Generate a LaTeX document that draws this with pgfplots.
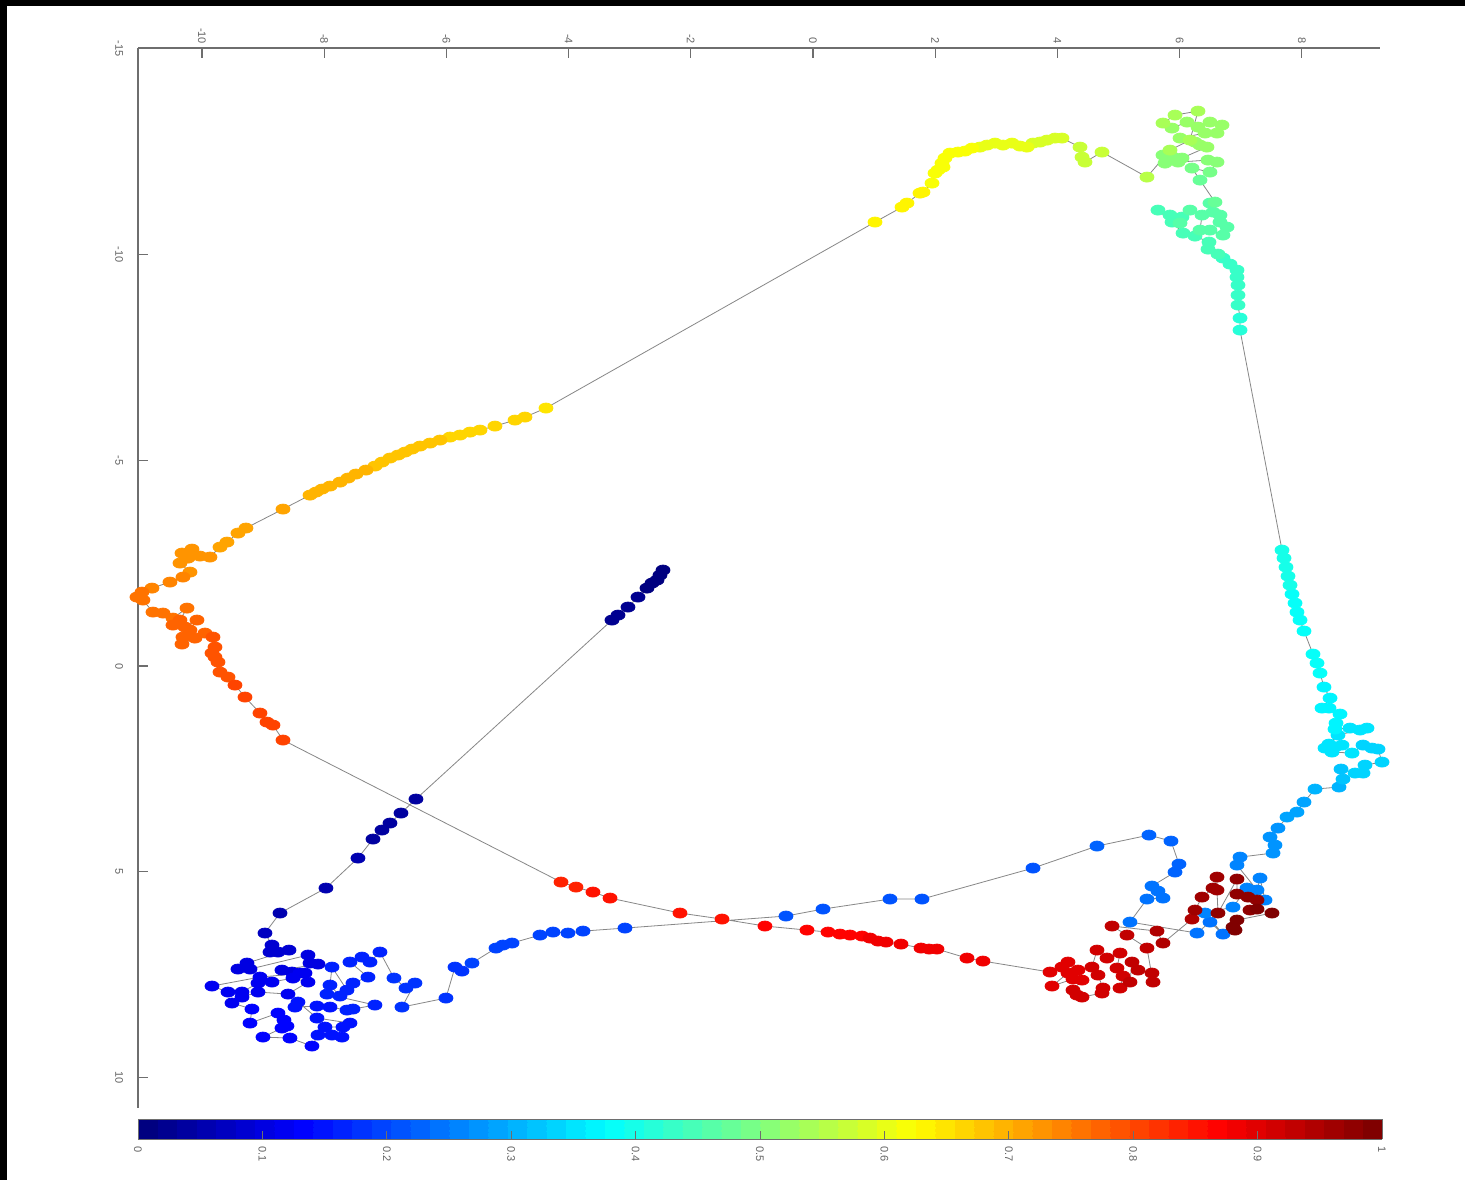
\documentclass[border=0pt]{standalone}
\usepackage{fontspec}
\setmainfont{Liberation Sans}
\usepackage{pgfplots}
\pgfplotsset{compat=1.18}
\definecolor{tickgray}{RGB}{100,100,100}
\definecolor{linegray}{RGB}{135,135,135}
\definecolor{axgray}{RGB}{110,110,110}
\pgfplotsset{colormap/jet}
\pgfplotsset{colormap={jetsixtyfour}{samples of colormap=(64 of jet)}}
\pgfplotstableread{
x y c
-2.455 -2.333 0.000
-2.504 -2.211 0.005
-2.553 -2.090 0.010
-2.635 -2.017 0.010
-2.717 -1.895 0.015
-2.864 -1.677 0.020
-3.028 -1.434 0.020
-3.191 -1.239 0.025
-3.290 -1.118 0.030
-6.498 3.232 0.035
-6.743 3.572 0.040
-6.923 3.815 0.040
-7.054 3.985 0.045
-7.201 4.204 0.045
-7.447 4.666 0.050
-7.971 5.395 0.055
-8.723 6.002 0.060
-8.969 6.488 0.070
-8.854 6.780 0.080
-8.887 6.950 0.085
-8.756 6.950 0.090
-8.576 6.902 0.090
-9.263 7.217 0.095
-9.411 7.363 0.100
-9.214 7.363 0.100
-8.265 7.023 0.100
-8.232 7.217 0.100
-8.101 7.242 0.105
-8.691 7.388 0.105
-8.527 7.436 0.105
-8.396 7.460 0.110
-8.314 7.460 0.110
-9.051 7.558 0.110
-9.836 7.776 0.110
-9.574 7.922 0.110
-9.345 7.922 0.115
-9.083 7.703 0.115
-8.854 7.679 0.115
-8.511 7.582 0.115
-8.265 7.679 0.120
-8.592 7.971 0.120
-9.083 7.922 0.120
-9.345 8.044 0.120
-9.509 8.189 0.120
-9.182 8.335 0.125
-9.214 8.676 0.125
-8.756 8.433 0.125
-8.658 8.603 0.130
-8.609 8.748 0.130
-8.691 8.797 0.130
-9.002 9.016 0.130
-8.560 9.040 0.140
-8.200 9.234 0.140
-8.101 8.967 0.145
-7.872 8.967 0.145
-7.709 9.016 0.150
-7.987 8.773 0.150
-7.692 8.773 0.150
-7.578 8.676 0.150
-8.118 8.554 0.150
-8.429 8.165 0.155
-8.478 8.287 0.155
-8.118 8.262 0.155
-7.905 8.287 0.155
-7.627 8.360 0.160
-7.529 8.335 0.160
-7.169 8.238 0.160
-7.954 7.971 0.160
-7.741 8.019 0.160
-7.905 7.752 0.160
-7.872 7.315 0.165
-7.627 7.874 0.165
-7.529 7.703 0.165
-7.283 7.558 0.165
-7.578 7.193 0.170
-7.381 7.072 0.170
-7.250 7.193 0.170
-7.087 6.950 0.170
-6.858 7.582 0.180
-6.661 7.825 0.180
-6.514 7.703 0.180
-6.727 8.287 0.180
-6.007 8.068 0.185
-5.859 7.315 0.185
-5.745 7.412 0.185
-5.581 7.217 0.190
-5.188 6.853 0.190
-5.074 6.780 0.190
-4.926 6.731 0.190
-4.468 6.537 0.195
-4.255 6.464 0.195
-4.010 6.488 0.195
-3.764 6.440 0.200
-3.077 6.367 0.200
-0.442 6.075 0.205
0.164 5.905 0.205
1.260 5.662 0.210
1.784 5.662 0.210
3.601 4.909 0.215
4.648 4.374 0.220
5.499 4.107 0.225
5.859 4.253 0.225
5.990 4.812 0.230
5.925 5.006 0.230
5.548 5.346 0.235
5.646 5.468 0.235
5.728 5.638 0.235
5.466 5.662 0.240
5.188 6.221 0.240
6.285 6.488 0.245
6.497 6.221 0.245
6.710 6.513 0.245
6.416 6.002 0.250
6.874 5.857 0.250
7.103 5.395 0.250
7.267 5.443 0.255
7.316 5.152 0.255
7.398 5.686 0.255
6.939 4.836 0.260
6.989 4.642 0.260
7.529 4.544 0.270
7.561 4.350 0.270
7.480 4.155 0.275
7.610 3.937 0.280
7.758 3.669 0.285
7.921 3.548 0.290
8.036 3.305 0.295
8.216 2.989 0.300
8.609 2.940 0.310
8.674 2.746 0.315
8.642 2.503 0.320
8.871 2.600 0.330
9.002 2.600 0.330
9.034 2.406 0.335
9.313 2.333 0.335
9.247 2.017 0.340
9.149 1.993 0.340
9.002 1.920 0.340
8.822 2.114 0.345
8.494 2.090 0.345
8.658 1.920 0.345
8.380 1.993 0.350
8.543 1.968 0.350
8.445 1.896 0.350
8.592 1.677 0.350
9.067 1.507 0.355
8.953 1.555 0.355
8.789 1.507 0.355
8.543 1.531 0.360
8.560 1.385 0.360
8.625 1.166 0.360
8.445 1.021 0.365
8.331 1.021 0.365
8.462 0.778 0.370
8.363 0.510 0.370
8.298 0.170 0.375
8.249 -0.073 0.375
8.183 -0.292 0.380
8.036 -0.851 0.380
7.971 -1.118 0.385
7.921 -1.312 0.385
7.889 -1.531 0.390
7.840 -1.750 0.390
7.807 -1.968 0.395
7.774 -2.187 0.395
7.741 -2.406 0.400
7.709 -2.624 0.400
7.676 -2.819 0.400
6.989 -8.165 0.420
6.989 -8.457 0.420
6.956 -8.773 0.425
6.956 -9.016 0.425
6.956 -9.259 0.430
6.939 -9.453 0.430
6.939 -9.623 0.430
6.825 -9.769 0.435
6.710 -9.915 0.435
6.628 -10.012 0.440
6.465 -10.133 0.440
6.481 -10.304 0.445
6.252 -10.449 0.445
6.056 -10.522 0.445
5.876 -10.790 0.450
5.646 -11.081 0.450
5.843 -10.960 0.450
6.039 -10.911 0.450
6.007 -10.765 0.455
6.170 -11.081 0.455
6.367 -10.960 0.455
6.334 -10.595 0.455
6.497 -10.595 0.460
6.710 -10.474 0.460
6.776 -10.668 0.460
6.661 -10.790 0.460
6.661 -10.960 0.465
6.547 -11.033 0.465
6.497 -11.251 0.465
6.579 -11.276 0.470
6.334 -11.810 0.480
6.203 -12.102 0.490
6.497 -12.005 0.490
6.612 -12.248 0.500
6.465 -12.296 0.500
5.974 -12.248 0.510
5.761 -12.223 0.510
5.728 -12.418 0.510
5.892 -12.369 0.515
6.039 -12.345 0.515
6.448 -12.612 0.520
6.334 -12.661 0.520
6.252 -12.734 0.520
6.007 -12.831 0.520
6.416 -12.953 0.525
6.612 -12.953 0.525
6.694 -13.147 0.525
6.497 -13.220 0.530
6.301 -13.098 0.530
6.121 -13.220 0.530
5.876 -13.074 0.530
5.728 -13.196 0.535
5.925 -13.390 0.535
6.301 -13.487 0.535
6.170 -12.782 0.540
5.843 -12.539 0.540
5.466 -11.883 0.550
4.730 -12.491 0.565
4.452 -12.248 0.570
4.403 -12.369 0.570
4.370 -12.612 0.575
4.075 -12.831 0.580
3.961 -12.831 0.585
3.830 -12.782 0.585
3.715 -12.734 0.590
3.601 -12.709 0.590
3.502 -12.612 0.595
3.388 -12.637 0.595
3.257 -12.709 0.600
3.110 -12.661 0.600
2.979 -12.709 0.600
2.848 -12.661 0.605
2.733 -12.612 0.605
2.602 -12.588 0.610
2.488 -12.515 0.610
2.373 -12.491 0.610
2.242 -12.466 0.615
2.160 -12.345 0.615
2.111 -12.223 0.615
2.128 -12.126 0.620
2.046 -12.053 0.620
1.997 -11.980 0.620
1.948 -11.737 0.620
1.800 -11.519 0.625
1.751 -11.494 0.625
1.538 -11.251 0.630
1.457 -11.154 0.630
1.015 -10.790 0.635
-4.370 -6.270 0.655
-4.714 -6.051 0.660
-4.877 -5.978 0.660
-5.205 -5.832 0.665
-5.450 -5.735 0.665
-5.614 -5.686 0.670
-5.777 -5.614 0.670
-5.941 -5.565 0.670
-6.105 -5.492 0.675
-6.268 -5.419 0.675
-6.432 -5.346 0.675
-6.563 -5.273 0.680
-6.678 -5.200 0.680
-6.792 -5.128 0.680
-6.923 -5.055 0.685
-7.054 -4.957 0.685
-7.169 -4.860 0.685
-7.316 -4.763 0.690
-7.480 -4.666 0.690
-7.610 -4.569 0.690
-7.741 -4.471 0.695
-7.905 -4.374 0.695
-8.036 -4.301 0.695
-8.134 -4.228 0.700
-8.232 -4.155 0.700
-8.674 -3.815 0.705
-9.280 -3.354 0.710
-9.411 -3.232 0.710
-9.591 -3.013 0.715
-9.705 -2.892 0.715
-9.869 -2.649 0.720
-10.033 -2.673 0.720
-10.164 -2.843 0.720
-10.327 -2.746 0.725
-10.229 -2.624 0.725
-10.360 -2.503 0.730
-10.196 -2.284 0.730
-10.311 -2.163 0.735
-10.524 -2.041 0.740
-10.818 -1.895 0.745
-10.982 -1.798 0.750
-11.064 -1.677 0.750
-10.966 -1.604 0.755
-10.802 -1.312 0.760
-10.638 -1.288 0.760
-10.475 -1.166 0.765
-10.245 -1.409 0.765
-10.360 -1.118 0.770
-10.475 -0.996 0.770
-10.278 -0.948 0.770
-10.082 -1.118 0.775
-10.196 -0.875 0.775
-10.311 -0.705 0.775
-10.115 -0.680 0.780
-10.327 -0.535 0.780
-9.951 -0.802 0.780
-9.820 -0.705 0.785
-9.787 -0.462 0.785
-9.836 -0.316 0.790
-9.787 -0.219 0.790
-9.738 -0.097 0.790
-9.705 0.146 0.795
-9.574 0.267 0.795
-9.460 0.462 0.800
-9.296 0.753 0.800
-9.051 1.142 0.805
-8.936 1.361 0.805
-8.838 1.434 0.810
-8.674 1.798 0.810
-4.124 5.249 0.840
-3.879 5.371 0.840
-3.601 5.492 0.845
-3.322 5.638 0.845
-2.177 6.002 0.850
-1.489 6.148 0.855
-0.786 6.318 0.860
-0.098 6.416 0.865
0.246 6.464 0.865
0.442 6.513 0.870
0.606 6.537 0.870
0.802 6.561 0.870
0.933 6.610 0.875
1.064 6.683 0.875
1.195 6.707 0.875
1.440 6.756 0.880
1.768 6.853 0.880
1.899 6.877 0.880
2.029 6.877 0.885
2.520 7.096 0.885
2.782 7.169 0.890
3.879 7.436 0.900
4.075 7.315 0.900
4.173 7.193 0.900
4.337 7.388 0.900
4.173 7.460 0.905
3.912 7.776 0.905
4.255 7.606 0.905
4.403 7.631 0.905
4.255 7.874 0.910
4.321 7.995 0.910
4.403 8.044 0.910
4.730 7.946 0.910
4.746 7.825 0.910
4.664 7.509 0.915
4.566 7.315 0.915
4.648 6.902 0.915
4.812 7.096 0.915
5.025 6.974 0.920
4.975 7.339 0.920
5.074 7.533 0.920
5.025 7.825 0.920
5.188 7.679 0.925
5.221 7.193 0.925
5.319 7.388 0.925
5.548 7.460 0.930
5.565 7.679 0.930
5.466 6.853 0.930
5.139 6.537 0.935
4.894 6.318 0.935
5.630 6.440 0.940
5.728 6.731 0.940
6.203 6.148 0.950
6.252 5.929 0.955
6.367 5.614 0.960
6.547 5.395 0.960
6.612 5.128 0.965
6.612 5.443 0.965
6.628 6.002 0.970
6.939 5.176 0.970
6.939 5.541 0.975
7.119 5.614 0.975
7.267 5.686 0.980
7.152 5.929 0.980
7.267 5.905 0.985
7.512 6.002 0.990
6.939 6.172 0.990
6.874 6.343 0.995
6.907 6.416 1.000
}\pathdata
\begin{document}
\begin{tikzpicture}
\fill[black] (0,0) rectangle (732.5pt,590pt);
\fill[white] (3.5pt,0) rectangle (732.5pt,587pt);
\begin{axis}[
  at={(69pt,36pt)}, anchor=south west,
  scale only axis, width=621pt, height=530pt,
  xmin=-11.047, xmax=9.28, ymin=-15.02, ymax=10.74,
  y dir=reverse,
  axis x line=top, axis y line=left,
  x axis line style={-}, y axis line style={-},
  axis line style={draw=axgray, line width=0.6pt},
  tick align=inside, major tick length=5pt,
  tick style={draw=axgray, line width=0.6pt},
  xtick={-10,-8,-6,-4,-2,0,2,4,6,8},
  xticklabels={-10,-8,-6,-4,-2,0,2,4,6,8},
  ytick={-15,-10,-5,0,5,10},
  yticklabels={-15,-10,-5,0,5,10},
  ticklabel style={font=\fontsize{5.5}{6}\selectfont, text=tickgray},
  xticklabel style={rotate=-90, anchor=east, xshift=1.5pt},
  yticklabel style={rotate=-90, anchor=north, yshift=-4pt},
  colormap name=jetsixtyfour,
  colormap access=piecewise constant,
  point meta min=0, point meta max=1,
  colorbar horizontal,
  colorbar style={
    at={(parent axis.south west)}, anchor=north west, yshift=3pt,
    scale only axis, width=622pt, height=10pt,
    xtick={0,0.1,0.2,0.3,0.4,0.5,0.6,0.7,0.8,0.9,1},
    xticklabels={0,0.1,0.2,0.3,0.4,0.5,0.6,0.7,0.8,0.9,1},
    xtick pos=left, xticklabel pos=left,
    tick align=inside, major tick length=4pt,
    tick style={draw=axgray, line width=0.5pt},
    axis line style={draw=axgray, line width=0.5pt},
    xticklabel style={rotate=-90, anchor=west, font=\fontsize{5.5}{6}\selectfont, text=tickgray},
  },
  clip=false,
]
\addplot[only marks, scatter, scatter src=explicit, mark=*, mark size=2.5pt,
  mark options={xscale=1.4},
  scatter/use mapped color={draw=mapped color, fill=mapped color}]
  table[x=x, y=y, meta=c] {\pathdata};
\addplot[no marks, draw=linegray, line width=0.4pt]
  table[x=x, y=y] {\pathdata};
\end{axis}
\pgfresetboundingbox
\useasboundingbox (0,0) rectangle (732.5pt,590pt);
\end{tikzpicture}
\end{document}
